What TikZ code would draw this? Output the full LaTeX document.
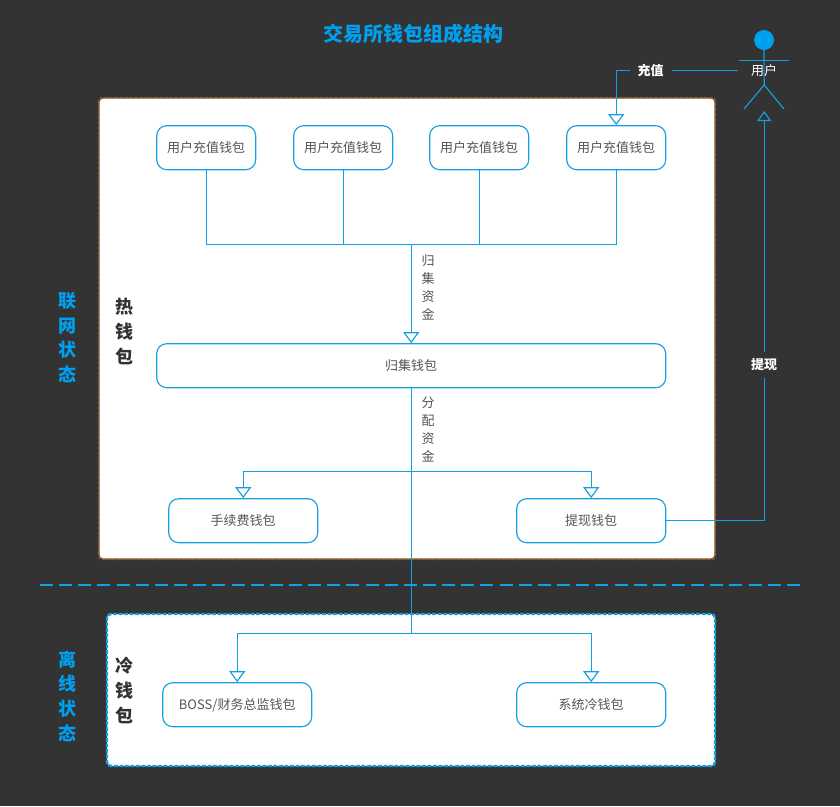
\documentclass[tikz,border=0pt]{standalone}
\usepackage{fontspec}
\setmainfont{Noto Sans CJK SC}
\usetikzlibrary{arrows.meta}
\definecolor{bgdark}{HTML}{333333}
\definecolor{linkblue}{HTML}{149FE0}
\definecolor{headblue}{HTML}{00A0F0}
\definecolor{boxtext}{HTML}{555555}
\newcommand{\boxlabel}[1]{\raisebox{-2pt}{#1}}
\tikzset{
  wallet/.style={draw=linkblue,fill=white,rounded corners=10pt,line width=1.15pt,inner sep=0pt,
    text=boxtext,font=\fontsize{13}{18}\selectfont},
  panel/.style={fill=white,rounded corners=4pt,inner sep=0pt},
  link/.style={draw=linkblue,line width=1.15pt},
  push/.style={link,-{Triangle[open,fill=white,length=11pt,width=16pt,line width=1.15pt]}},
  tag/.style={text=boxtext,align=center,inner sep=0pt,font=\fontsize{13}{18}\selectfont},
  flowtag/.style={fill=bgdark,text=white,inner sep=0pt,minimum width=42pt,minimum height=16pt,font=\fontsize{13}{18}\selectfont\bfseries},
  zonetag/.style={text=headblue,align=center,inner sep=0pt,font=\fontsize{18}{24.7}\selectfont\bfseries},
  walletag/.style={text=bgdark,align=center,inner sep=0pt,font=\fontsize{18}{25}\selectfont\bfseries}
}
\begin{document}
\begin{tikzpicture}[x=1pt,y=-1pt]
\fill [bgdark] (0,0) rectangle (840,806);
\useasboundingbox (0,0) rectangle (840,806);
% panels
\node (hot) [panel,draw=orange!60!black,line width=1.2pt,minimum width=616pt,minimum height=461pt] at (407,328.5) {};
\draw [black!60,dash pattern=on 3pt off 2pt,line width=1.2pt,rounded corners=4pt] (hot.north west) rectangle (hot.south east);
\node (cold) [panel,draw=linkblue,dash pattern=on 4pt off 1.5pt,line width=2.4pt,minimum width=608pt,minimum height=152pt] at (411,690) {};
\coordinate (lineleft) at (40,585);
\coordinate (lineright) at (800,585);
\draw [link,line width=1.2pt,dash pattern=on 13pt off 6.15pt] (lineleft) -- (lineright);
% title and side labels
\node (title) [text=headblue,inner sep=0pt,font=\fontsize{20}{24}\selectfont\bfseries] at (413.5,34) {交易所钱包组成结构};
\node (online) [zonetag] at (67,337.5) {联\\网\\状\\态};
\node (offline) [zonetag] at (67,696) {离\\线\\状\\态};
\node (hotname) [walletag] at (124,331) {热\\钱\\包};
\node (coldname) [walletag] at (124,690) {冷\\钱\\包};
% wallets
\node (dep1) [wallet,minimum width=99pt,minimum height=44pt] at (206.2,147.7) {\boxlabel{用户充值钱包}};
\node (dep2) [wallet,minimum width=99pt,minimum height=44pt] at (343.2,147.7) {\boxlabel{用户充值钱包}};
\node (dep3) [wallet,minimum width=99pt,minimum height=44pt] at (479.2,147.7) {\boxlabel{用户充值钱包}};
\node (dep4) [wallet,minimum width=99pt,minimum height=44pt] at (616.2,147.7) {\boxlabel{用户充值钱包}};
\node (collect) [wallet,minimum width=509pt,minimum height=44pt] at (411.2,365.7) {\boxlabel{归集钱包}};
\node (fee) [wallet,minimum width=149pt,minimum height=44pt] at (243.2,520.7) {\boxlabel{手续费钱包}};
\node (withdraw) [wallet,minimum width=149pt,minimum height=44pt] at (591.2,520.7) {\boxlabel{提现钱包}};
\node (boss) [wallet,minimum width=149pt,minimum height=44pt] at (237.2,704.7) {\boxlabel{BOSS/财务总监钱包}};
\node (coldbox) [wallet,minimum width=149pt,minimum height=44pt] at (591.2,704.7) {\boxlabel{系统冷钱包}};
% bus joints
\coordinate (busin) at (411.2,244.2);
\coordinate (busout) at (411.2,471.2);
\coordinate (buscold) at (411.2,633.2);
\foreach \n in {1,...,4}
  \draw [link] (dep\n.south) |- (busin);
\draw [push] (busin) -- (collect.north);
\draw [link] (collect.south) -- (buscold);
\draw [push] (busout) -| (fee.north);
\draw [push] (busout) -| (withdraw.north);
\draw [push] (buscold) -| (boss.north);
\draw [push] (buscold) -| (coldbox.north);
\node (gather) [tag] at (428,287.5) {归\\集\\资\\金};
\node (share) [tag] at (428,429.5) {分\\配\\资\\金};
% user figure
\node (head) [circle,fill=headblue,minimum size=20pt,inner sep=0pt] at (764,40) {};
\coordinate (armleft) at (739,60.2);
\coordinate (armright) at (789,60.2);
\coordinate (hip) at (764.2,85);
\coordinate (footleft) at (744,109);
\coordinate (footright) at (784,109);
\coordinate (under) at (764.2,111);
\draw [link] (head.south) -- (hip);
\draw [link] (armleft) -- (armright);
\draw [link] (footleft) -- (hip) -- (footright);
\node (user) [text=white,inner sep=0pt,minimum width=52pt,minimum height=18pt,font=\fontsize{13}{18}\selectfont] at (764.2,70.2) {用户};
% flows to and from the user
\draw [push] (user.west) -| (dep4.north);
\draw [link,-{Triangle[open,fill=bgdark,length=10pt,width=14pt,line width=1.15pt]}] (withdraw.east) -| (under);
\node (topup) [flowtag] at (650.5,70.2) {充值};
\node (takeout) [flowtag,minimum width=32pt,minimum height=26pt] at (764,364.5) {提现};
\end{tikzpicture}
\end{document}
